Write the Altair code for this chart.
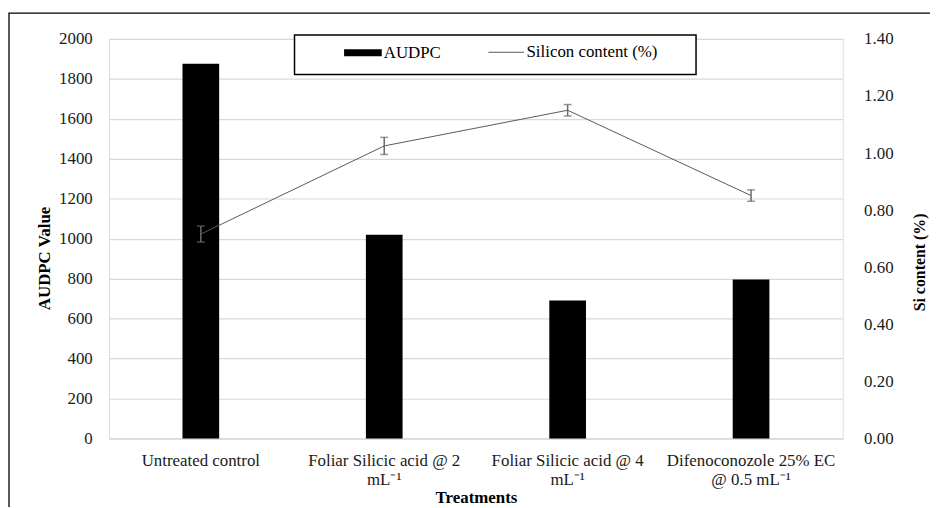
import altair as alt
import pandas as pd

treatments = [
    "Untreated control",
    "Foliar Silicic  acid @ 2|mL⁻¹",
    "Foliar Silicic  acid @ 4|mL⁻¹",
    "Difenoconozole 25% EC|@ 0.5 mL⁻¹",
]
audpc = [1875, 1020, 690, 795]
si_content = [0.716, 1.025, 1.150, 0.851]
si_err = [0.028, 0.030, 0.020, 0.020]
left_ticks = [0, 200, 400, 600, 800, 1000, 1200, 1400, 1600, 1800, 2000]
right_ticks = [0.0, 0.2, 0.4, 0.6, 0.8, 1.0, 1.2, 1.4]

df = pd.DataFrame({
    "treatment": treatments,
    "audpc": audpc,
    "si": si_content,
    "lo": [v - e for v, e in zip(si_content, si_err)],
    "hi": [v + e for v, e in zip(si_content, si_err)],
    "bar_series": ["AUDPC"] * 4,
    "line_series": ["Silicon content (%)"] * 4,
})

FONT = "'Times New Roman', 'Liberation Serif', Times, serif"
FS = 17
W, H = 740, 403

x_enc = alt.X(
    "treatment:N", sort=treatments,
    scale=alt.Scale(type="band", paddingInner=0, paddingOuter=0),
    axis=alt.Axis(
        title="Treatments", labelAngle=0, labelExpr="split(datum.label, '|')",
        labelFont=FONT, labelFontSize=FS, labelColor="#1a1a1a", labelLineHeight=19,
        labelPadding=14, ticks=False, domain=True, domainColor="#d9d9d9", domainWidth=1.2,
        titleFont=FONT, titleFontSize=FS, titleFontWeight="bold", titleColor="#000000",
        titleY=60, titleBaseline="middle", grid=False,
    ),
)

bars = alt.Chart(df).mark_bar(size=37).encode(
    x=x_enc,
    y=alt.Y(
        "audpc:Q", scale=alt.Scale(domain=[0, 2000], nice=False),
        axis=alt.Axis(
            title="AUDPC Value", values=left_ticks, orient="left", format="d",
            labelFont=FONT, labelFontSize=FS, labelColor="#1a1a1a", labelPadding=17,
            ticks=False, domain=False, grid=True, gridColor="#d9d9d9", gridWidth=1.2,
            titleFont=FONT, titleFontSize=FS, titleFontWeight="bold", titleColor="#000000",
            titleX=-65, titleY=221, titleBaseline="middle",
        ),
    ),
    color=alt.Color(
        "bar_series:N", scale=alt.Scale(domain=["AUDPC"], range=["#000000"]),
        legend=alt.Legend(
            title=None, orient="none", legendX=237, legendY=-5,
            symbolType="M-1,-0.19H1V0.19H-1Z", symbolSize=1444, symbolStrokeWidth=0,
            labelFont=FONT, labelFontSize=FS, labelColor="#000000", labelOffset=2, padding=0,
        ),
    ),
)

si_y = alt.Y(
    "si:Q", scale=alt.Scale(domain=[0, 1.4], nice=False),
    axis=alt.Axis(
        title="Si content (%)", values=right_ticks, format=".2f", orient="right",
        labelFont=FONT, labelFontSize=FS, labelColor="#1a1a1a", labelPadding=21,
        ticks=False, domain=False, grid=False,
        titleFont=FONT, titleFontSize=16, titleFontWeight="bold", titleColor="#000000",
        titleAngle=270, titleX=77, titleY=225, titleBaseline="middle",
    ),
)

line = alt.Chart(df).mark_line(strokeWidth=1).encode(
    x=x_enc,
    y=si_y,
    stroke=alt.Stroke(
        "line_series:N", scale=alt.Scale(domain=["Silicon content (%)"], range=["#595959"]),
        legend=alt.Legend(
            title=None, orient="none", legendX=382, legendY=-5,
            symbolType="stroke", symbolSize=1296, symbolStrokeWidth=1,
            labelFont=FONT, labelFontSize=FS, labelColor="#000000", labelOffset=2, padding=0,
        ),
    ),
)

err_rule = alt.Chart(df).mark_rule(color="#6b6b6b", strokeWidth=1.5).encode(
    x=x_enc, y=alt.Y("lo:Q"), y2="hi:Q",
)
cap_lo = alt.Chart(df).mark_tick(orient="horizontal", size=8, thickness=1.5, color="#6b6b6b").encode(
    x=x_enc, y=alt.Y("lo:Q"),
)
cap_hi = alt.Chart(df).mark_tick(orient="horizontal", size=8, thickness=1.5, color="#6b6b6b").encode(
    x=x_enc, y=alt.Y("hi:Q"),
)

si_layer = alt.layer(line, err_rule, cap_lo, cap_hi)

legend_box = alt.Chart(alt.Data(values=[{"k": 1}])).mark_rect(
    fill="white", stroke="black", strokeWidth=1.5
).encode(
    x=alt.value(187), x2=alt.value(592), y=alt.value(-4), y2=alt.value(36)
)

frame = alt.Chart(alt.Data(values=[{"k": 1}])).mark_rect(
    fill=None, stroke="black", strokeWidth=1.3
).encode(
    x=alt.value(-101), x2=alt.value(900), y=alt.value(-26), y2=alt.value(600)
)

chart = alt.layer(frame, bars, legend_box, si_layer).resolve_scale(
    y="independent"
).properties(
    width=W, height=H,
    autosize=alt.AutoSizeParams(type="none"),
    padding={"left": 102, "top": 29, "right": 88, "bottom": 67},
).configure_view(stroke=None).configure(background="white")

chart.save("out.html", embed_options={"renderer": "svg", "actions": False})
